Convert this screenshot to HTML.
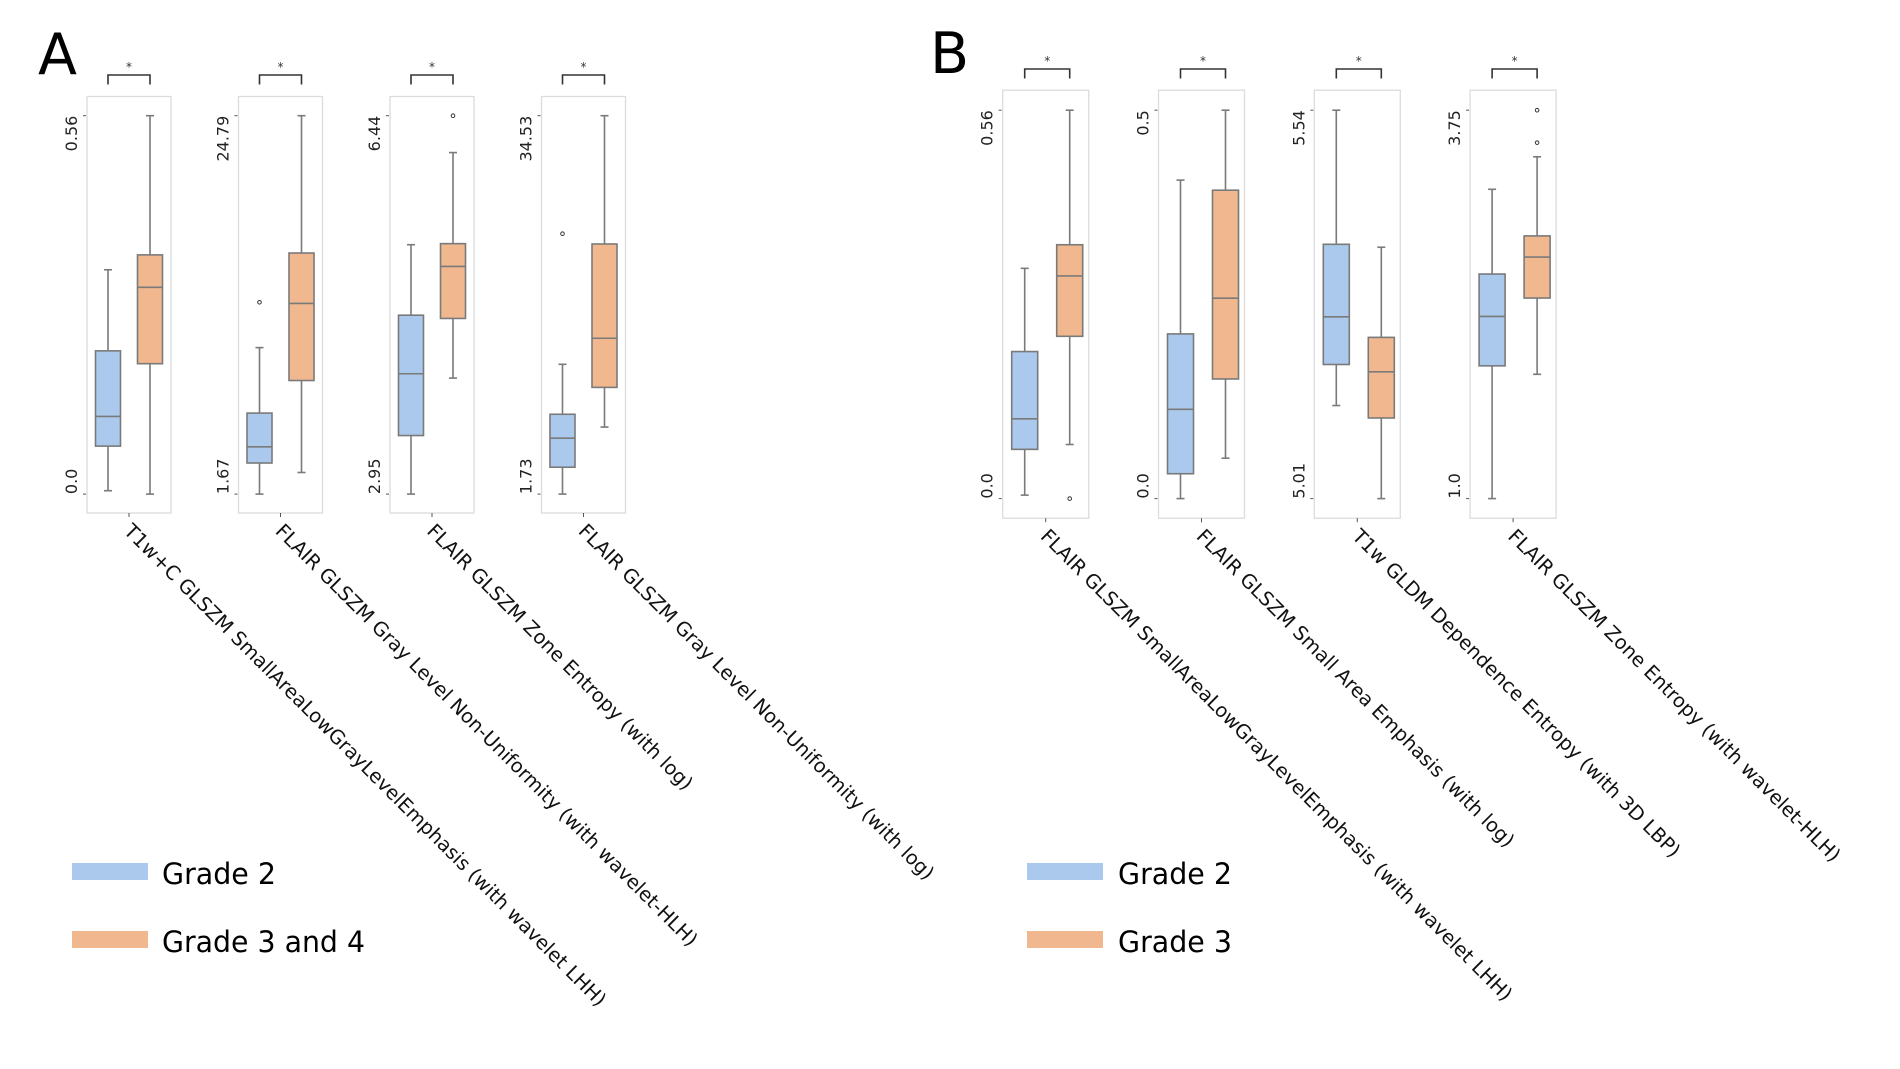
<!DOCTYPE html>
<html><head><meta charset="utf-8"><style>
html,body{margin:0;padding:0;background:#fff;}
svg{display:block;}
text{font-family:"DejaVu Sans","Liberation Sans",sans-serif;}
</style></head><body>
<svg id="chart" width="1900" height="1069" viewBox="0 0 1900 1069" xmlns="http://www.w3.org/2000/svg">
<text x="38" y="74" font-family="Liberation Sans, sans-serif" font-size="57" fill="#000">A</text>
<text x="930" y="73" font-family="Liberation Sans, sans-serif" font-size="57" fill="#000">B</text>
<g>
<rect x="72" y="863" width="76" height="17" fill="#aac9ec"/>
<text x="162" y="884" font-family="Liberation Sans, sans-serif" font-size="29" textLength="114" lengthAdjust="spacingAndGlyphs" fill="#000">Grade 2</text>
<rect x="72" y="931" width="76" height="17" fill="#f1b890"/>
<text x="162" y="952" font-family="Liberation Sans, sans-serif" font-size="29" textLength="203" lengthAdjust="spacingAndGlyphs" fill="#000">Grade 3 and 4</text>
</g>
<g>
<rect x="1027" y="863" width="76" height="17" fill="#aac9ec"/>
<text x="1118" y="884" font-family="Liberation Sans, sans-serif" font-size="29" textLength="114" lengthAdjust="spacingAndGlyphs" fill="#000">Grade 2</text>
<rect x="1027" y="931" width="76" height="17" fill="#f1b890"/>
<text x="1118" y="952" font-family="Liberation Sans, sans-serif" font-size="29" textLength="114" lengthAdjust="spacingAndGlyphs" fill="#000">Grade 3</text>
</g>
</svg>
<script>
// Panel A data
const aLabels = ["T1w+C GLSZM SmallAreaLowGrayLevelEmphasis (with wavelet LHH)","FLAIR GLSZM Gray Level Non-Uniformity (with wavelet-HLH)","FLAIR GLSZM Zone Entropy (with log)","FLAIR GLSZM Gray Level Non-Uniformity (with log)"];
const aTickMin = ["0.0","1.67","2.95","1.73"];
const aTickMax = ["0.56","24.79","6.44","34.53"];
const aRangeMin = [0.0,1.67,2.95,1.73];
const aRangeMax = [0.56,24.79,6.44,34.53];
// [low whisker, Q1, median, Q3, high whisker]
const aGrade2 = [[0.005,0.071,0.115,0.212,0.332],[1.67,3.57,4.56,6.62,10.62],[2.95,3.49,4.06,4.60,5.25],[1.73,4.06,6.58,8.65,12.98]];
const aGrade34 = [[0.0,0.193,0.306,0.354,0.56],[2.99,8.61,13.32,16.40,24.79],[4.02,4.57,5.05,5.26,6.10],[7.54,10.98,15.24,23.41,34.53]];
const aOut2 = [[],[13.39],[],[24.30]];
const aOut34 = [[],[],[6.44],[]];
// Panel B data
const bLabels = ["FLAIR GLSZM SmallAreaLowGrayLevelEmphasis (with wavelet LHH)","FLAIR GLSZM Small Area Emphasis (with log)","T1w GLDM Dependence Entropy (with 3D LBP)","FLAIR GLSZM Zone Entropy (with wavelet-HLH)"];
const bTickMin = ["0.0","0.0","5.01","1.0"];
const bTickMax = ["0.56","0.5","5.54","3.75"];
const bRangeMin = [0.0,0.0,5.01,1.0];
const bRangeMax = [0.56,0.5,5.54,3.75];
const bGrade2 = [[0.005,0.071,0.115,0.212,0.332],[0.0,0.032,0.115,0.212,0.41],[5.137,5.193,5.258,5.357,5.54],[1.0,1.94,2.29,2.59,3.19]];
const bGrade3 = [[0.078,0.234,0.321,0.366,0.56],[0.052,0.154,0.258,0.397,0.5],[5.01,5.12,5.183,5.23,5.353],[1.88,2.42,2.71,2.86,3.42]];
const bOut2 = [[],[],[],[]];
const bOut3 = [[0.0],[],[],[3.52,3.75]];

const NS="http://www.w3.org/2000/svg";
const svg=document.getElementById('chart');
function mk(tag,attrs,parent){const e=document.createElementNS(NS,tag);for(const k in attrs)e.setAttribute(k,attrs[k]);(parent||svg).appendChild(e);return e;}

function drawPanel(p){
  const g=mk('g',{});
  
  
  for(let i=0;i<4;i++){
    const fx=p.x0+i*p.step;
    const yScale=v=>p.yBot-(v-p.min[i])/(p.max[i]-p.min[i])*(p.yBot-p.yTop);
    const sub=mk('g',{},g);
    
    
    const fr=mk('rect',{x:fx,y:p.fTop,width:p.fw,height:p.fBot-p.fTop,fill:'#fff',stroke:'#dcdcdc','stroke-width':1.3},sub);
    
    
    [[p.min[i],p.tmin[i],'start'],[p.max[i],p.tmax[i],'end']].forEach(([v,lab,anc])=>{
      const y=yScale(v);
      const tk=mk('line',{x1:fx-4,x2:fx-1,y1:y,y2:y,stroke:'#555','stroke-width':1},sub);
      
      
      const t=mk('text',{x:0,y:0,'font-size':16,fill:'#222','text-anchor':anc,transform:`translate(${fx-10},${y}) rotate(-90)`},sub);
      t.textContent=lab;
      
      
    });
    const cx=[fx+p.c1,fx+p.c2];
    const series=[[p.s1[i],p.o1[i],'#aac9ec'],[p.s2[i],p.o2[i],'#f1b890']];
    series.forEach(([s,outs,col],k)=>{
      const c=cx[k],hw=p.bw/2;
      const bg=mk('g',{},sub);
      
      
      const st={stroke:'#7a7a7a','stroke-width':1.6};
      mk('line',Object.assign({x1:c,x2:c,y1:yScale(s[0]),y2:yScale(s[1])},st),bg);
      mk('line',Object.assign({x1:c,x2:c,y1:yScale(s[3]),y2:yScale(s[4])},st),bg);
      mk('line',Object.assign({x1:c-4,x2:c+4,y1:yScale(s[0]),y2:yScale(s[0])},st),bg);
      mk('line',Object.assign({x1:c-4,x2:c+4,y1:yScale(s[4]),y2:yScale(s[4])},st),bg);
      mk('rect',Object.assign({x:c-hw,y:yScale(s[3]),width:p.bw,height:yScale(s[1])-yScale(s[3]),fill:col},st),bg);
      mk('line',Object.assign({x1:c-hw,x2:c+hw,y1:yScale(s[2]),y2:yScale(s[2])},st),bg);
      outs.forEach(v=>{
        const o=mk('circle',{cx:c,cy:yScale(v),r:1.8,fill:'none',stroke:'#333','stroke-width':1},bg);
        
        
      });
    });
    const br=mk('path',{d:`M${cx[0]},${p.brB} V${p.brT} H${cx[1]} V${p.brB}`,fill:'none',stroke:'#333','stroke-width':1.6},sub);
    
    
    const star=mk('text',{x:(cx[0]+cx[1])/2,y:p.brT-4,'font-size':12,'text-anchor':'middle',fill:'#333'},sub);
    star.textContent='*';
    
    
    const mx=fx+p.fw/2;
    const xt=mk('line',{x1:mx,x2:mx,y1:p.fBot,y2:p.fBot+4,stroke:'#555','stroke-width':1},sub);
    
    
    const xl=mk('text',{x:0,y:0,'font-size':19.5,fill:'#111','dominant-baseline':'hanging',transform:`translate(${mx+4},${p.fBot+9}) rotate(45)`},sub);
    xl.textContent=p.labels[i];
    
    
  }
}
drawPanel({name:'panel-a',x0:87,step:151.5,fw:84,fTop:96.5,fBot:513,yTop:115.7,yBot:494.1,c1:21,c2:63,bw:25,brT:75,brB:84.5,
  min:aRangeMin,max:aRangeMax,tmin:aTickMin,tmax:aTickMax,s1:aGrade2,s2:aGrade34,o1:aOut2,o2:aOut34,labels:aLabels});
drawPanel({name:'panel-b',x0:1002.7,step:155.8,fw:86,fTop:90.2,fBot:518.2,yTop:110.2,yBot:498.6,c1:22,c2:67,bw:26,brT:69,brB:78.5,
  min:bRangeMin,max:bRangeMax,tmin:bTickMin,tmax:bTickMax,s1:bGrade2,s2:bGrade3,o1:bOut2,o2:bOut3,labels:bLabels});
</script>
</body></html>
